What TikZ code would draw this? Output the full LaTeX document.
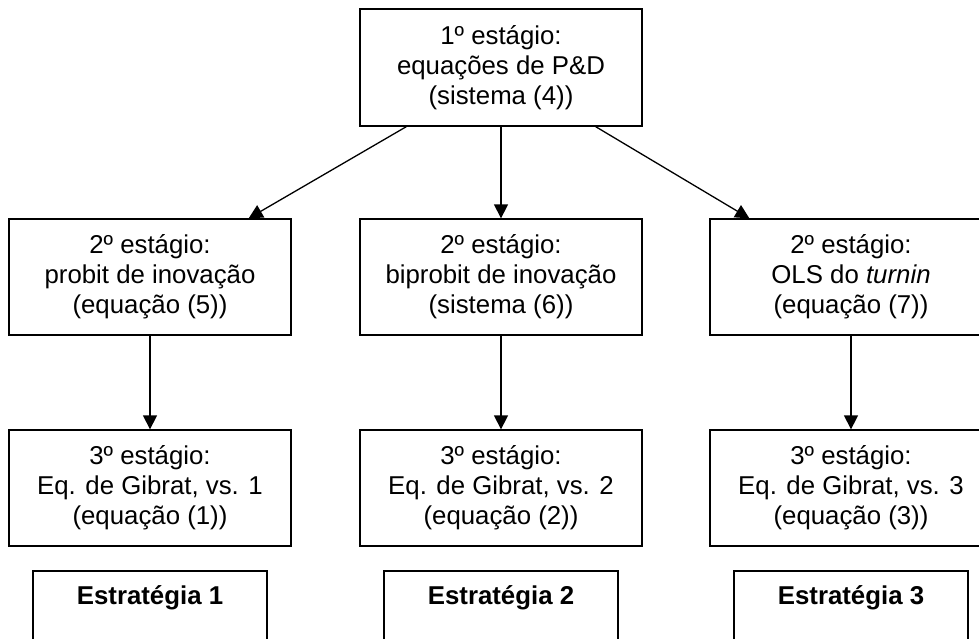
\documentclass[tikz,border=0pt]{standalone}
\usepackage{fontspec}
\setmainfont{Liberation Sans}
\usetikzlibrary{shapes,arrows.meta}

\tikzset{
  stagebox/.style = {rectangle,
                     draw,
                     line width = 1.3pt,
                     fill = white,
                     align = center,
                     minimum width = 282pt,
                     minimum height = 116pt,
                     font = \fontsize{25.8}{30}\selectfont},
  stratbox/.style = {rectangle,
                     draw,
                     line width = 1.3pt,
                     minimum width = 234pt,
                     minimum height = 116pt},
  flow/.style     = {line width = 1.3pt,
                     -{Triangle[width=14pt,length=14pt]}}
}

\begin{document}
\begin{tikzpicture}[x=1pt,y=-1pt]

  \clip (0,0) rectangle (979,639);
  \fill[white] (0,0) rectangle (979,639);

      % 1o estagio
      \node[stagebox, minimum height = 117pt] (s1) at (501,67.5)
            {1º estágio:\\ equações de P\&D\\ (sistema (4))};

      % 2o estagio
      \node[stagebox] (s2a) at (150,277)
            {2º estágio:\\ probit de inovação\\ (equação (5))};
      \node[stagebox] (s2b) at (501,277)
            {2º estágio:\\ biprobit de inovação\\ (sistema (6))};
      \node[stagebox] (s2c) at (851,277)
            {2º estágio:\\ OLS do \textit{turnin}\\ (equação (7))};

      % 3o estagio
      \node[stagebox] (s3a) at (150,488)
            {3º estágio:\\ Eq. de Gibrat, vs. 1\\ (equação (1))};
      \node[stagebox] (s3b) at (501,488)
            {3º estágio:\\ Eq. de Gibrat, vs. 2\\ (equação (2))};
      \node[stagebox] (s3c) at (851,488)
            {3º estágio:\\ Eq. de Gibrat, vs. 3\\ (equação (3))};

      % estrategias
      \node[stratbox] (e1) at (150,629) {};
      \node[anchor=north, font=\fontsize{25.8}{30}\selectfont\bfseries]
            (e1t) at ([yshift=-12pt]e1.north) {Estratégia 1};
      \node[stratbox] (e2) at (501,629) {};
      \node[anchor=north, font=\fontsize{25.8}{30}\selectfont\bfseries]
            (e2t) at ([yshift=-12pt]e2.north) {Estratégia 2};
      \node[stratbox] (e3) at (851,629) {};
      \node[anchor=north, font=\fontsize{25.8}{30}\selectfont\bfseries]
            (e3t) at ([yshift=-12pt]e3.north) {Estratégia 3};

      % setas
      \draw[flow] ([xshift=47pt]s1.south west) -- ([xshift=-43pt]s2a.north east);
      \draw[flow] (s1.south) -- (s2b.north);
      \draw[flow] ([xshift=-47pt]s1.south east) -- ([xshift=40pt]s2c.north west);

      \draw[flow] (s2a.south) -- (s3a.north);
      \draw[flow] (s2b.south) -- (s3b.north);
      \draw[flow] (s2c.south) -- (s3c.north);

\end{tikzpicture}
\end{document}
